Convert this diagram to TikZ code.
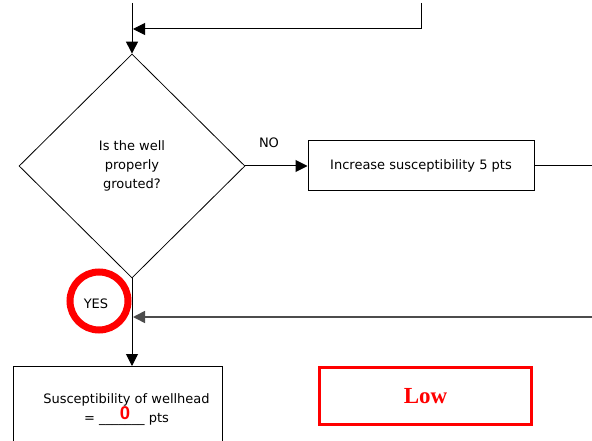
\documentclass[tikz,border=0pt]{standalone}
\usepackage{fontspec}
\setmainfont{DejaVu Sans}
\newfontfamily\lowfont{Liberation Serif}
\newfontfamily\zerofont{Liberation Sans}
\usetikzlibrary{shapes.geometric,arrows.meta}
\begin{document}
\begin{tikzpicture}[x=1pt, y=-1pt,
  every node/.style={font=\fontsize{13}{19}\selectfont},
  tip/.style={-{Triangle[length=12pt,width=12pt]}},
  wire/.style={line width=1pt},
  boxnode/.style={draw, line width=1pt, inner sep=0pt, align=center}]

\useasboundingbox (0,0) rectangle (592,441);
\clip (0,0) rectangle (592,441);

% question and the two branches
\node[boxnode, shape=diamond, minimum width=226pt, minimum height=224pt, line width=0.8pt] (grout) at (132,166) {Is the well\\properly\\grouted?};
\node[boxnode, minimum width=226pt, minimum height=50pt] (inc) at (421,166) {Increase susceptibility 5 pts};
\node[boxnode, minimum width=209pt, minimum height=120pt, anchor=north west] (wellhead) at (13,366) {};
\node[align=center] (wellheadtxt) at (126.5,410) {Susceptibility of wellhead\\= \_\_\_\_\_\_\_ pts};
\node[text=red, font={\zerofont\bfseries\fontsize{18.5}{18.5}\selectfont}] (zero) at (125,413) {0};
\node[draw=red, line width=3pt, minimum width=212pt, minimum height=57pt, text=red, font={\lowfont\bfseries\fontsize{23}{23}\selectfont}] (low) at (425.5,396) {Low};

\node[draw=red, circle, line width=7pt, minimum size=58pt, inner sep=0pt] (yesring) at (99,301) {};
\node (yes) at (96,304) {YES};
\node (nolabel) at (269,143) {NO};

\coordinate (topin) at (132,3);
\coordinate (loopup) at (421,3);
\coordinate (loopcorner) at (421,29);
\coordinate (loopjoin) at (133,29);
\coordinate (outright) at (592,166);
\coordinate (backright) at (592,317);
\coordinate (backjoin) at (133,317);

\draw[wire, tip] (topin) -- (grout.north);
\draw[wire, tip] (loopup) -- (loopcorner) -- (loopjoin);
\draw[wire, tip] (grout.east) -- (inc.west);
\draw[wire] (inc.east) -- (outright);
\draw[wire, tip] (grout.south) -- (grout.south |- wellhead.north);
\draw[line width=1.6pt, black!70, tip] (backright) -- (backjoin);

\end{tikzpicture}
\end{document}
